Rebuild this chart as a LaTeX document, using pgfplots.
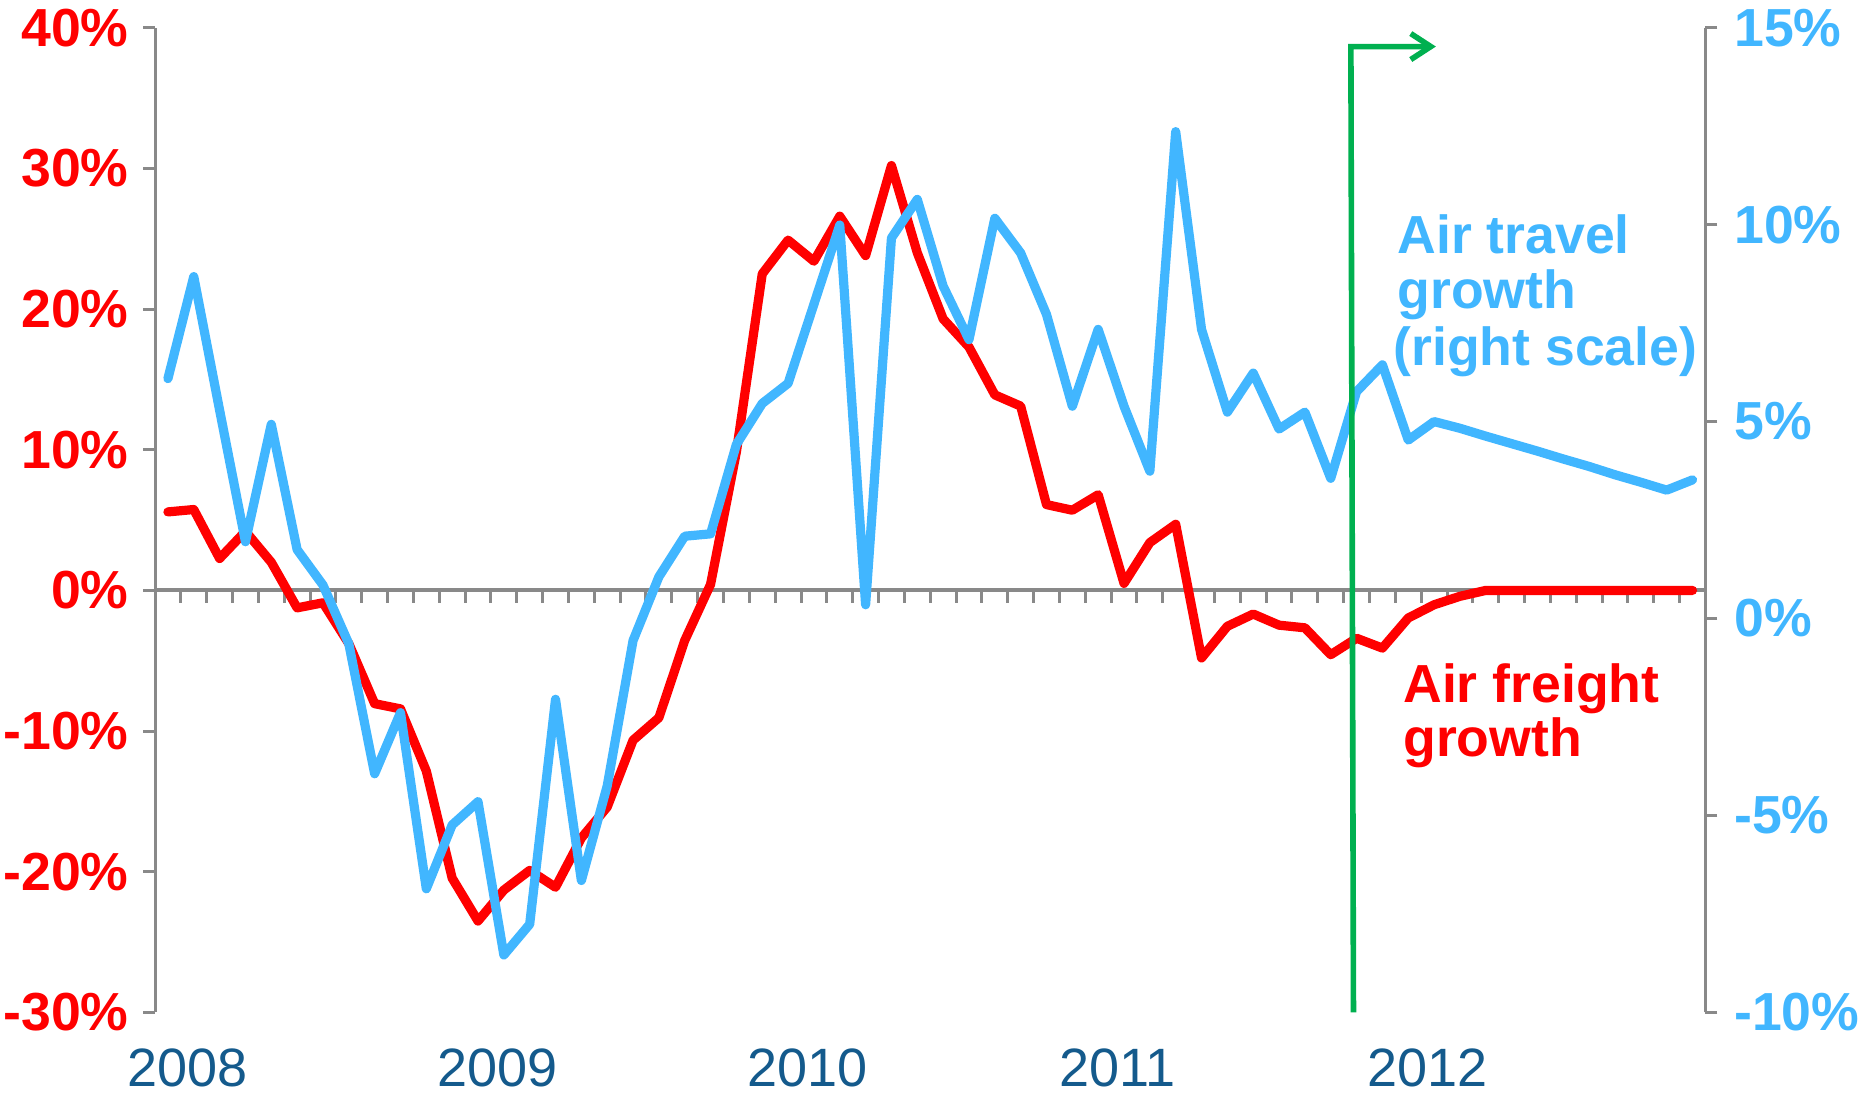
\documentclass[border=0pt]{standalone}
\usepackage{fontspec}
\setmainfont{Liberation Sans}
\usepackage{pgfplots}
\pgfplotsset{compat=1.18}
\usetikzlibrary{arrows.meta}
\definecolor{fred}{RGB}{255,0,0}
\definecolor{tblue}{RGB}{65,182,255}
\definecolor{yblue}{RGB}{20,90,140}
\definecolor{agray}{RGB}{137,137,137}
\definecolor{agreen}{RGB}{0,176,80}
\newcommand{\lblfont}{\fontsize{13.4}{15}\selectfont\bfseries}
\begin{document}
\begin{tikzpicture}
\pgfplotsset{
  every axis/.append style={
    scale only axis, width=387.6pt, height=246.2pt,
    xmin=-0.5, xmax=59.5,
    axis line style={agray, line width=0.75pt, -},
    tick style={agray, line width=0.75pt},
    tick align=outside, major tick length=3pt,
    minor tick num=0,
    clip=false,
  },
}
\begin{axis}[
  ymin=-30, ymax=40,
  axis x line*=bottom, axis y line*=left,
  x axis line style={draw=none},
  xtick={0.76,12.76,24.76,36.76,48.76},
  xticklabels={2008,2009,2010,2011,2012},
  xtick style={draw=none},
  xticklabel style={anchor=base, yshift=-15.6pt, inner sep=0pt, text=yblue, font=\fontsize{13.5}{15}\selectfont},
  ytick={-30,-20,...,40},
  yticklabels={-30\%,-20\%,-10\%,0\%,10\%,20\%,30\%,40\%},
  yticklabel style={anchor=east, inner sep=0pt, xshift=-3.4pt, text=fred, font=\lblfont},
]
\coordinate (SW) at (rel axis cs:0,0);
\coordinate (NE) at (rel axis cs:1,1);
\draw[agray, line width=1pt] (axis cs:-0.5,0) -- (axis cs:59.5,0);
\pgfplotsinvokeforeach{0.5,1.5,...,58.5}{\draw[agray, line width=0.75pt] (axis cs:#1,0) -- ++(0pt,-3.2pt);}
\addplot[fred, line width=2.3pt, line join=round, line cap=round] coordinates {
(0,5.58) (1,5.75) (2,2.27) (3,4.2) (4,2.0) (5,-1.24) (6,-0.88) (7,-3.78) (8,-8.05) (9,-8.42)
(10,-12.84) (11,-20.45) (12,-23.5) (13,-21.3) (14,-19.9) (15,-21.1) (16,-17.6) (17,-15.4) (18,-10.65) (19,-9.05)
(20,-3.56) (21,0.43) (22,9.85) (23,22.5) (24,24.9) (25,23.4) (26,26.6) (27,23.8) (28,30.2) (29,24.0)
(30,19.3) (31,17.3) (32,13.9) (33,13.1) (34,6.1) (35,5.7) (36,6.8) (37,0.5) (38,3.4) (39,4.7)
(40,-4.8) (41,-2.55) (42,-1.68) (43,-2.47) (44,-2.66) (45,-4.57) (46,-3.4) (47,-4.1) (48,-1.96) (49,-1.02)
(50,-0.42) (51,0) (52,0) (53,0) (54,0) (55,0) (56,0) (57,0) (58,0) (59,0)
};
\node[anchor=base west, inner sep=0pt, text=tblue, font=\lblfont] at (axis cs:47.55,23.96) {Air travel};
\node[anchor=base west, inner sep=0pt, text=tblue, font=\lblfont] at (axis cs:47.55,20.05) {growth};
\node[anchor=base west, inner sep=0pt, text=tblue, font=\lblfont] at (axis cs:47.4,15.97) {(right scale)};
\node[anchor=base west, inner sep=0pt, text=fred, font=\lblfont] at (axis cs:47.78,-7.96) {Air freight};
\node[anchor=base west, inner sep=0pt, text=fred, font=\lblfont] at (axis cs:47.78,-11.79) {growth};
\end{axis}
\begin{axis}[
  ymin=-10, ymax=15,
  axis x line=none, axis y line*=right,
  ytick={-10,-5,...,15},
  yticklabels={-10\%,-5\%,0\%,5\%,10\%,15\%},
  yticklabel style={anchor=west, inner sep=0pt, xshift=4pt, text=tblue, font=\lblfont},
]
\addplot[tblue, line width=2.3pt, line join=round, line cap=round] coordinates {
(0,6.09) (1,8.68) (2,5.29) (3,1.95) (4,4.93) (5,1.75) (6,0.85) (7,-0.64) (8,-3.94) (9,-2.39)
(10,-6.86) (11,-5.24) (12,-4.65) (13,-8.54) (14,-7.76) (15,-2.05) (16,-6.65) (17,-4.25) (18,-0.56) (19,1.06)
(20,2.09) (21,2.15) (22,4.42) (23,5.46) (24,5.97) (25,7.98) (26,9.99) (27,0.35) (28,9.66) (29,10.64)
(30,8.44) (31,7.08) (32,10.16) (33,9.28) (34,7.72) (35,5.39) (36,7.34) (37,5.39) (38,3.74) (39,12.36)
(40,7.34) (41,5.24) (42,6.23) (43,4.81) (44,5.24) (45,3.56) (46,5.76) (47,6.44) (48,4.53) (49,5.0)
(50,4.83) (51,4.63) (52,4.44) (53,4.25) (54,4.05) (55,3.86) (56,3.65) (57,3.46) (58,3.26) (59,3.52)
};
\draw[agreen, line width=1.4pt, -{Straight Barb[length=5pt,width=6.5pt]}] (axis cs:45.88,-10) -- (axis cs:45.78,14.52) -- (axis cs:49.07,14.52);
\end{axis}
\pgfresetboundingbox
\path ([xshift=-38.75pt,yshift=-20.6pt]SW) rectangle ([xshift=40.65pt,yshift=6.925pt]NE);
\end{tikzpicture}
\end{document}
